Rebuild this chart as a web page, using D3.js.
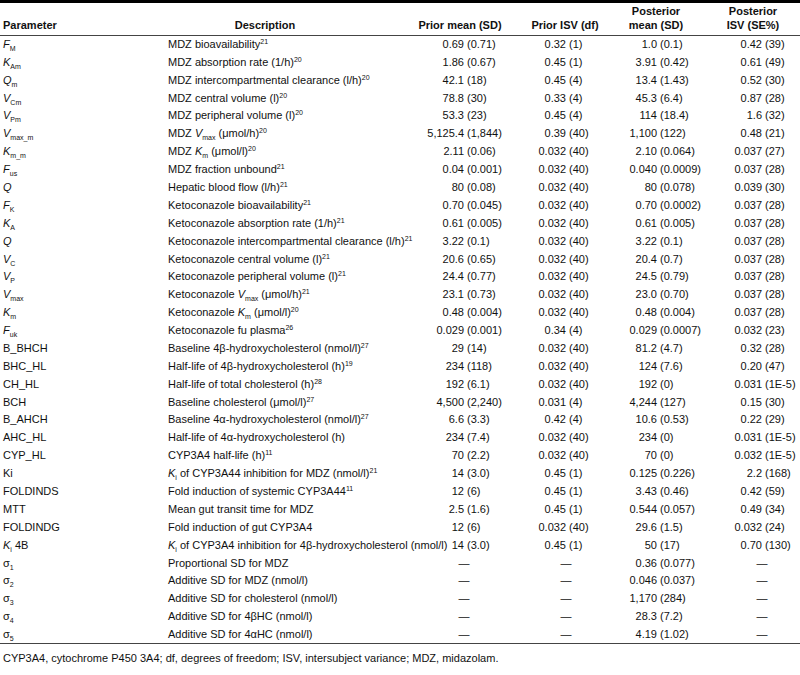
<!DOCTYPE html>
<html>
<head>
    <title>Parameter table</title>
    <script src="https://d3js.org/d3.v7.min.js"></script>
    <style>
        body {
            margin: 0;
            background-color: #fff;
            font-family: "Liberation Sans", Arial, sans-serif;
        }
        svg text {
            fill: #111;
            font-size: 11px;
        }
        .head text {
            font-weight: bold;
        }
    </style>
</head>
<body>
    <svg id="table"></svg>
    <script>
        // markup: *italic*, _{sub}, ^{sup}
        const headers = ['Parameter', 'Description', 'Prior mean (SD)', 'Prior ISV (df)',
            'Posterior|mean (SD)', 'Posterior|ISV (SE%)'];

        const params = [
            '*F*_{M}', '*K*_{Am}', '*Q*_{m}', '*V*_{Cm}', '*V*_{Pm}', '*V*_{max_m}', '*K*_{m_m}',
            '*F*_{us}', '*Q*', '*F*_{K}', '*K*_{A}', '*Q*', '*V*_{C}', '*V*_{P}', '*V*_{max}',
            '*K*_{m}', '*F*_{uk}', 'B_BHCH', 'BHC_HL', 'CH_HL', 'BCH', 'B_AHCH', 'AHC_HL',
            'CYP_HL', 'Ki', 'FOLDINDS', 'MTT', 'FOLDINDG', '*K*_{i} 4B',
            'σ_{1}', 'σ_{2}', 'σ_{3}', 'σ_{4}', 'σ_{5}'
        ];

        const descriptions = [
            'MDZ bioavailability^{21}',
            'MDZ absorption rate (1/h)^{20}',
            'MDZ intercompartmental clearance (l/h)^{20}',
            'MDZ central volume (l)^{20}',
            'MDZ peripheral volume (l)^{20}',
            'MDZ *V*_{max} (μmol/h)^{20}',
            'MDZ *K*_{m} (μmol/l)^{20}',
            'MDZ fraction unbound^{21}',
            'Hepatic blood flow (l/h)^{21}',
            'Ketoconazole bioavailability^{21}',
            'Ketoconazole absorption rate (1/h)^{21}',
            'Ketoconazole intercompartmental clearance (l/h)^{21}',
            'Ketoconazole central volume (l)^{21}',
            'Ketoconazole peripheral volume (l)^{21}',
            'Ketoconazole *V*_{max} (μmol/h)^{21}',
            'Ketoconazole *K*_{m} (μmol/l)^{20}',
            'Ketoconazole fu plasma^{26}',
            'Baseline 4β-hydroxycholesterol (nmol/l)^{27}',
            'Half-life of 4β-hydroxycholesterol (h)^{19}',
            'Half-life of total cholesterol (h)^{28}',
            'Baseline cholesterol (μmol/l)^{27}',
            'Baseline 4α-hydroxycholesterol (nmol/l)^{27}',
            'Half-life of 4α-hydroxycholesterol (h)',
            'CYP3A4 half-life (h)^{11}',
            '*K*_{i} of CYP3A44 inhibition for MDZ (nmol/l)^{21}',
            'Fold induction of systemic CYP3A44^{11}',
            'Mean gut transit time for MDZ',
            'Fold induction of gut CYP3A4',
            '*K*_{i} of CYP3A4 inhibition for 4β-hydroxycholesterol (nmol/l)',
            'Proportional SD for MDZ',
            'Additive SD for MDZ (nmol/l)',
            'Additive SD for cholesterol (nmol/l)',
            'Additive SD for 4βHC (nmol/l)',
            'Additive SD for 4αHC (nmol/l)'
        ];

        const priorMean = [
            '0.69 (0.71)', '1.86 (0.67)', '42.1 (18)', '78.8 (30)', '53.3 (23)', '5,125.4 (1,844)',
            '2.11 (0.06)', '0.04 (0.001)', '80 (0.08)', '0.70 (0.045)', '0.61 (0.005)', '3.22 (0.1)',
            '20.6 (0.65)', '24.4 (0.77)', '23.1 (0.73)', '0.48 (0.004)', '0.029 (0.001)', '29 (14)',
            '234 (118)', '192 (6.1)', '4,500 (2,240)', '6.6 (3.3)', '234 (7.4)', '70 (2.2)',
            '14 (3.0)', '12 (6)', '2.5 (1.6)', '12 (6)', '14 (3.0)', '—', '—', '—', '—', '—'
        ];

        const priorISV = [
            '0.32 (1)', '0.45 (1)', '0.45 (4)', '0.33 (4)', '0.45 (4)', '0.39 (40)', '0.032 (40)',
            '0.032 (40)', '0.032 (40)', '0.032 (40)', '0.032 (40)', '0.032 (40)', '0.032 (40)',
            '0.032 (40)', '0.032 (40)', '0.032 (40)', '0.34 (4)', '0.032 (40)', '0.032 (40)',
            '0.032 (40)', '0.031 (4)', '0.42 (4)', '0.032 (40)', '0.032 (40)', '0.45 (1)',
            '0.45 (1)', '0.45 (1)', '0.032 (40)', '0.45 (1)', '—', '—', '—', '—', '—'
        ];

        const postMean = [
            '1.0 (0.1)', '3.91 (0.42)', '13.4 (1.43)', '45.3 (6.4)', '114 (18.4)', '1,100 (122)',
            '2.10 (0.064)', '0.040 (0.0009)', '80 (0.078)', '0.70 (0.0002)', '0.61 (0.005)',
            '3.22 (0.1)', '20.4 (0.7)', '24.5 (0.79)', '23.0 (0.70)', '0.48 (0.004)',
            '0.029 (0.0007)', '81.2 (4.7)', '124 (7.6)', '192 (0)', '4,244 (127)', '10.6 (0.53)',
            '234 (0)', '70 (0)', '0.125 (0.226)', '3.43 (0.46)', '0.544 (0.057)', '29.6 (1.5)',
            '50 (17)', '0.36 (0.077)', '0.046 (0.037)', '1,170 (284)', '28.3 (7.2)', '4.19 (1.02)'
        ];

        const postISV = [
            '0.42 (39)', '0.61 (49)', '0.52 (30)', '0.87 (28)', '1.6 (32)', '0.48 (21)', '0.037 (27)',
            '0.037 (28)', '0.039 (30)', '0.037 (28)', '0.037 (28)', '0.037 (28)', '0.037 (28)',
            '0.037 (28)', '0.037 (28)', '0.037 (28)', '0.032 (23)', '0.32 (28)', '0.20 (47)',
            '0.031 (1E-5)', '0.15 (30)', '0.22 (29)', '0.031 (1E-5)', '0.032 (1E-5)', '2.2 (168)',
            '0.42 (59)', '0.49 (34)', '0.032 (24)', '0.70 (130)', '—', '—', '—', '—', '—'
        ];

        const footnote = 'CYP3A4, cytochrome P450 3A4; df, degrees of freedom; ISV, intersubject variance; MDZ, midazolam.';

        const width = 800, height = 675;
        const svg = d3.select('#table').attr('width', width).attr('height', height);

        // rows
        const y = d3.scaleBand()
            .domain(d3.range(params.length))
            .range([35, 643]);
        const rowY = i => y(i) + y.bandwidth() / 2 + 4;

        // column anchors (text columns left, numeric columns aligned on the "(")
        const textCols = { param: 3, desc: 168 };
        const numCols = [
            { values: priorMean, anchor: 467, head: 460 },
            { values: priorISV, anchor: 569, head: 565 },
            { values: postMean, anchor: 660, head: 656 },
            { values: postISV, anchor: 765, head: 753 }
        ];

        function rich(sel, str) {
            const parts = str.split(/(\*[^*]+\*|_\{[^}]*\}|\^\{[^}]*\})/g).filter(s => s);
            let shift = 0;
            parts.forEach(p => {
                const t = sel.append('tspan');
                if (p[0] === '*') {
                    t.text(p.slice(1, -1)).style('font-style', 'italic').attr('dy', -shift);
                    shift = 0;
                } else if (p.startsWith('_{')) {
                    t.text(p.slice(2, -1)).style('font-size', '7px').attr('dy', 3 - shift);
                    shift = 3;
                } else if (p.startsWith('^{')) {
                    t.text(p.slice(2, -1)).style('font-size', '7px').attr('dy', -4 - shift);
                    shift = -4;
                } else {
                    t.text(p).attr('dy', -shift);
                    shift = 0;
                }
            });
        }

        // rules
        svg.append('rect').attr('x', 0).attr('y', 0).attr('width', width).attr('height', 3).attr('fill', '#000');
        svg.append('line').attr('x1', 0).attr('x2', width).attr('y1', 35.5).attr('y2', 35.5)
            .attr('stroke', '#444').attr('stroke-width', 1);
        svg.append('line').attr('x1', 0).attr('x2', width).attr('y1', 643.5).attr('y2', 643.5)
            .attr('stroke', '#444').attr('stroke-width', 1);

        // header
        const head = svg.append('g').attr('class', 'head');
        head.append('text').attr('x', textCols.param).attr('y', 29).text(headers[0]);
        head.append('text').attr('x', 265).attr('y', 29).attr('text-anchor', 'middle').text(headers[1]);
        numCols.forEach((c, k) => {
            const lines = headers[k + 2].split('|');
            lines.forEach((l, j) => {
                head.append('text')
                    .attr('x', c.head)
                    .attr('y', 29 - (lines.length - 1 - j) * 14)
                    .attr('text-anchor', 'middle')
                    .text(l);
            });
        });

        // body
        const body = svg.append('g');
        body.selectAll('.param').data(params).enter().append('text')
            .attr('class', 'param')
            .attr('x', textCols.param)
            .attr('y', (d, i) => rowY(i))
            .each(function (d) { rich(d3.select(this), d); });

        body.selectAll('.desc').data(descriptions).enter().append('text')
            .attr('class', 'desc')
            .attr('x', textCols.desc)
            .attr('y', (d, i) => rowY(i))
            .each(function (d) { rich(d3.select(this), d); });

        numCols.forEach(c => {
            const g = body.append('g');
            c.values.forEach((v, i) => {
                const k = v.indexOf(' (');
                if (k < 0) {
                    g.append('text').attr('x', c.anchor - 3).attr('y', rowY(i))
                        .attr('text-anchor', 'middle').text(v);
                } else {
                    g.append('text').attr('x', c.anchor - 3).attr('y', rowY(i))
                        .attr('text-anchor', 'end').text(v.slice(0, k));
                    g.append('text').attr('x', c.anchor).attr('y', rowY(i))
                        .text(v.slice(k + 1));
                }
            });
        });

        svg.append('text').attr('x', 3).attr('y', 662).text(footnote);
    </script>
</body>
</html>
